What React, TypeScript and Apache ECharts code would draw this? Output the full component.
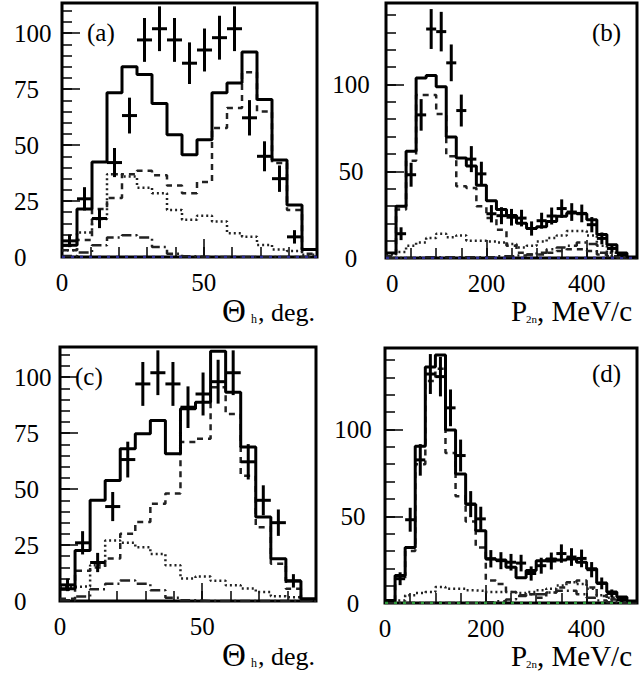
import React, { useEffect, useRef } from "react";
import * as echarts from "echarts";

// ---------- axes / binning ----------
const thetaMax = 90;
const thetaBins = 17;
const thetaYMax = 113.5;
const momMax = 500;
const momBins = 25;
const momYMax = 147;

const thetaXLabels = [0, 50];
const thetaYLabels = [0, 25, 50, 75, 100];
const momXLabels = [0, 200, 400];
const momYLabels = [0, 50, 100];

// ---------- experimental data (shared) ----------
const thetaData = [7.2, 26, 17.2, 42.2, 63.2, 97, 102, 97, 86.6, 92.5, 98, 102, 62.2, 45, 35, 9, null];
const thetaErr = [2.8, 5.2, 4.3, 6.5, 8, 9.8, 10, 9.8, 9.3, 9.6, 9.8, 10, 7.9, 6.7, 5.9, 3, null];
const momData = [null, 14, 48, 82.5, 132, 130.5, 112.5, 85, 57, 48.5, 25.5, 24.4, 23.5, 23, 17, 21.5, 24.2, 28.5, 26.5, 25.7, 19.2, 11.3, 5.5, 2, null];
const momErr = [null, 3.7, 6.9, 9.1, 11.5, 11.4, 10.6, 9.2, 7.5, 7, 5, 4.9, 4.8, 4.8, 4.1, 4.6, 4.9, 5.3, 5.1, 5.1, 4.4, 3.4, 2.3, 1.4, null];

// ---------- panel (a) ----------
const solidA = [5.2, 21.4, 42.4, 73.4, 85, 81.6, 68.6, 54.6, 45.7, 52.4, 73.4, 77.8, 91.6, 70.4, 43.4, 23.2, 3.3];
const dashedA = [3, 7.6, 21.5, 26.4, 37, 38.5, 36.5, 32, 28.5, 33.5, 57.6, 66.6, 82.6, 65, 42, 21, 1.5];
const dottedA = [3, 11, 17, 37, 36, 31, 28.5, 21, 16.6, 18.4, 15.9, 10.6, 9.1, 5.4, 3.4, 2.7, 1];
const dashDotA = [0.5, 2, 5.2, 8.7, 9.7, 8.7, 4.5, 1.5, 0.3, 0, 0, 0, 0, 0, 0, 0, 0];

// ---------- panel (c) ----------
const solidC = [5.5, 22.6, 45, 53.9, 68, 74.7, 80.7, 65.8, 85.9, 88.8, 111.6, 93.3, 68.8, 37.5, 18.9, 8.9, 1];
const dashedC = [1, 13.5, 15, 19, 30, 35.3, 43.5, 48, 71, 72.5, 95.5, 83.6, 56, 33, 16.7, 5.5, 0.5];
const dottedC = [6.3, 6.5, 16, 27, 26, 24, 21, 16, 10, 11, 9, 7, 5.6, 4, 2.1, 1.7, 0.3];
const dashDotC = [0.3, 2, 5.2, 7.7, 9.2, 7.7, 4.8, 1.5, 0.3, 0, 0, 0, 0, 0, 0, 0, 0];

// ---------- panel (b) ----------
const solidB = [2.9, 29.8, 61.5, 103.8, 105.2, 98.7, 69.8, 57.7, 53, 42, 33, 28, 24.5, 20, 17, 18, 21, 24, 26, 25.5, 22, 13.5, 7.7, 2.9, 0.6];
const dashedB = [1, 28, 56, 94, 94, 83, 58.6, 41.3, 40.4, 29.8, 23, 16.3, 7, 3, 2, 2, 3, 4, 5, 5, 4, 2, 1, 0.5, 0];
const dottedB = [2, 3.5, 7, 9, 11.5, 14, 12, 13, 10, 10, 9.5, 9, 8, 6, 7, 9.5, 11.5, 13, 15.5, 15.5, 13, 7, 3, 1.5, 0.3];
const dashDotB = [0, 0, 0, 0.5, 0.5, 0.5, 0.5, 0.5, 0.5, 0.5, 0.5, 1, 1, 1.5, 2, 3, 5, 6, 7, 9, 8, 3, 1, 0.3, 0];

// ---------- panel (d) ----------
const solidD = [1.5, 15.8, 32, 90.3, 136, 143, 99.8, 74.4, 56.9, 41.6, 25.4, 24.8, 20.6, 14.5, 18.7, 24.4, 25.4, 24.8, 25.4, 23.5, 19.7, 11.5, 6.3, 3.4, 1.1];
const dashedD = [0.5, 14, 30, 80, 128, 135, 86.5, 61.6, 47, 32, 13, 11, 6.3, 4.4, 5, 3, 6, 9, 12, 13, 9, 4, 2, 1, 0];
const dottedD = [0.5, 1.5, 4.4, 5.7, 6.3, 9.2, 8.2, 8.2, 7.3, 7, 6.3, 6.3, 6.3, 5.7, 6.3, 7.3, 8.2, 10.1, 12, 11, 8.2, 4.4, 3, 1.5, 0.5];
const dashDotD = [0, 0, 0, 0, 0, 0, 0, 0, 0, 0, 0.5, 1, 2, 4, 5, 5, 6, 7, 7, 5, 3, 1.5, 0.5, 0, 0];

const FONT = "Liberation Serif";

function histPoints(values: number[], width: number) {
  const pts = values.map((v, i) => [i * width, v]);
  pts.push([values.length * width, values[values.length - 1]]);
  return pts;
}

function dataPoints(values: (number | null)[], errs: (number | null)[], width: number) {
  const out: number[][] = [];
  values.forEach((v, i) => {
    if (v != null) out.push([(i + 0.5) * width, v, errs[i] as number]);
  });
  return out;
}

type Panel = {
  grid: { left: number; top: number; width: number; height: number };
  xMax: number;
  yMax: number;
  xInt: number;
  xMinor: number;
  yInt: number;
  yMinor: number;
  xLabels: number[];
  yLabels: number[];
  yLabelAlign: "left" | "center";
  yLabelMargin: number;
  bins: number;
  solid: number[];
  dashed: number[];
  dotted: number[];
  dashDot: number[];
  data: (number | null)[];
  err: (number | null)[];
  baseColor: string | null;
  alignMin: boolean;
};

const panels: Panel[] = [
  {
    grid: { left: 62, top: 3, width: 255, height: 254 },
    xMax: thetaMax, yMax: thetaYMax, xInt: 50, xMinor: 10, yInt: 25, yMinor: 5,
    xLabels: thetaXLabels, yLabels: thetaYLabels, yLabelAlign: "left", yLabelMargin: 48,
    bins: thetaBins, solid: solidA, dashed: dashedA, dotted: dottedA, dashDot: dashDotA,
    data: thetaData, err: thetaErr, baseColor: "#2b2b8f", alignMin: false,
  },
  {
    grid: { left: 386, top: 3, width: 251, height: 255 },
    xMax: momMax, yMax: momYMax, xInt: 200, xMinor: 50, yInt: 50, yMinor: 10,
    xLabels: momXLabels, yLabels: momYLabels, yLabelAlign: "center", yLabelMargin: 35,
    bins: momBins, solid: solidB, dashed: dashedB, dotted: dottedB, dashDot: dashDotB,
    data: momData, err: momErr, baseColor: "#2b2b8f", alignMin: true,
  },
  {
    grid: { left: 60, top: 347, width: 256, height: 254 },
    xMax: thetaMax, yMax: thetaYMax, xInt: 50, xMinor: 10, yInt: 25, yMinor: 5,
    xLabels: thetaXLabels, yLabels: thetaYLabels, yLabelAlign: "left", yLabelMargin: 46,
    bins: thetaBins, solid: solidC, dashed: dashedC, dotted: dottedC, dashDot: dashDotC,
    data: thetaData, err: thetaErr, baseColor: null, alignMin: false,
  },
  {
    grid: { left: 385, top: 348, width: 252, height: 255 },
    xMax: momMax, yMax: momYMax, xInt: 200, xMinor: 50, yInt: 50, yMinor: 10,
    xLabels: momXLabels, yLabels: momYLabels, yLabelAlign: "center", yLabelMargin: 32,
    bins: momBins, solid: solidD, dashed: dashedD, dotted: dottedD, dashDot: dashDotD,
    data: momData, err: momErr, baseColor: "#2e9a3a", alignMin: false,
  },
];

function buildOption() {
  const grid: any[] = [];
  const xAxis: any[] = [];
  const yAxis: any[] = [];
  const series: any[] = [];
  const tickStyle = { color: "#000", width: 1.5 };

  panels.forEach((p, g) => {
    grid.push({
      ...p.grid,
      show: true,
      borderColor: "#000",
      borderWidth: 3,
      backgroundColor: "transparent",
      containLabel: false,
    });
    const labelSet = (arr: number[]) => (v: number) => (arr.indexOf(Math.round(v * 1000) / 1000) >= 0 ? String(v) : "");
    xAxis.push({
      gridIndex: g, type: "value", min: 0, max: p.xMax, interval: p.xInt, position: "bottom",
      axisLine: { show: false },
      axisTick: { show: true, inside: true, length: 18, lineStyle: tickStyle },
      axisLabel: {
        show: true, margin: 13, color: "#000", fontFamily: FONT, fontSize: 25,
        formatter: labelSet(p.xLabels), showMaxLabel: false,
        ...(p.alignMin ? { alignMinLabel: "left" } : {}),
      },
      splitLine: { show: false },
    });
    xAxis.push({
      gridIndex: g, type: "value", min: 0, max: p.xMax, interval: p.xMinor, position: "bottom",
      axisLine: { show: false },
      axisTick: { show: true, inside: true, length: 10, lineStyle: tickStyle },
      axisLabel: { show: false },
      splitLine: { show: false },
    });
    yAxis.push({
      gridIndex: g, type: "value", min: 0, max: p.yMax, interval: p.yInt, position: "left",
      axisLine: { show: false },
      axisTick: { show: true, inside: true, length: 18, lineStyle: tickStyle },
      axisLabel: {
        show: true, margin: p.yLabelMargin, align: p.yLabelAlign, color: "#000",
        fontFamily: FONT, fontSize: 25, formatter: labelSet(p.yLabels), showMaxLabel: false,
      },
      splitLine: { show: false },
    });
    yAxis.push({
      gridIndex: g, type: "value", min: 0, max: p.yMax, interval: p.yMinor, position: "left",
      axisLine: { show: false },
      axisTick: { show: true, inside: true, length: 10, lineStyle: tickStyle },
      axisLabel: { show: false },
      splitLine: { show: false },
    });

    const w = p.xMax / p.bins;
    const xi = 2 * g;
    const yi = 2 * g;
    const line = (vals: number[], color: string, width: number, type: any) => ({
      type: "line", xAxisIndex: xi, yAxisIndex: yi, step: "end", symbol: "none", silent: true,
      lineStyle: { color, width, type }, data: histPoints(vals, w), z: 3,
    });
    series.push(line(p.dotted, "#222", 2.5, [2, 3]));
    series.push(line(p.dashDot, "#222", 2.5, [10, 4, 2, 4]));
    series.push(line(p.dashed, "#222", 2.5, [6, 5]));
    series.push(line(p.solid, "#000", 3, "solid"));
    if (p.baseColor) {
      series.push({
        type: "line", xAxisIndex: xi, yAxisIndex: yi, symbol: "none", silent: true, z: 4,
        lineStyle: { color: p.baseColor, width: 2.5, type: [3, 6] },
        data: [[0, 0], [p.xMax, 0]],
      });
    }
    series.push({
      type: "custom", xAxisIndex: xi, yAxisIndex: yi, silent: true, z: 5,
      renderItem: (params: any, api: any) => {
        const x = api.value(0);
        const y = api.value(1);
        const e = api.value(2);
        const pl = api.coord([x - w / 2, y]);
        const pr = api.coord([x + w / 2, y]);
        const pt = api.coord([x, y + e]);
        const pb = api.coord([x, Math.max(0, y - e)]);
        return {
          type: "group",
          children: [
            { type: "line", shape: { x1: pl[0], y1: pl[1], x2: pr[0], y2: pr[1] }, style: { stroke: "#000", lineWidth: 3 } },
            { type: "line", shape: { x1: pt[0], y1: pt[1], x2: pb[0], y2: pb[1] }, style: { stroke: "#000", lineWidth: 3 } },
          ],
        };
      },
      encode: { x: 0, y: 1 },
      data: dataPoints(p.data, p.err, w),
    });
  });

  const txt = (text: string, left: number, top: number, size: number) => ({
    type: "text", left, top, silent: true,
    style: { text, fill: "#000", font: `${size}px "${FONT}"` },
  });

  const graphic = [
    txt("(a)", 87, 20, 25),
    txt("(b)", 592, 20, 25),
    txt("(c)", 75, 364, 25),
    txt("(d)", 592, 361, 25),
    // theta titles
    txt("Θ", 222, 294, 33),
    txt("h", 251, 313, 12),
    txt(", deg.", 258, 299, 26),
    txt("Θ", 222, 638, 33),
    txt("h", 251, 657, 12),
    txt(", deg.", 258, 643, 26),
    // momentum titles
    txt("P", 511, 296, 29),
    txt("2n", 526, 313, 11),
    txt(", MeV/c", 537, 296, 29),
    txt("P", 511, 641, 29),
    txt("2n", 526, 658, 11),
    txt(", MeV/c", 537, 641, 29),
  ];

  return {
    animation: false,
    backgroundColor: "#fff",
    grid,
    xAxis,
    yAxis,
    series,
    graphic,
  };
}

export default function App() {
  const ref = useRef<HTMLDivElement>(null);
  useEffect(() => {
    if (!ref.current) return;
    const chart = echarts.init(ref.current, undefined, { renderer: "svg" });
    chart.setOption(buildOption() as any);
    return () => chart.dispose();
  }, []);
  return (
    <div
      ref={ref}
      style={{ position: "absolute", left: 0, top: 0, width: 640, height: 677, background: "#fff" }}
    />
  );
}
